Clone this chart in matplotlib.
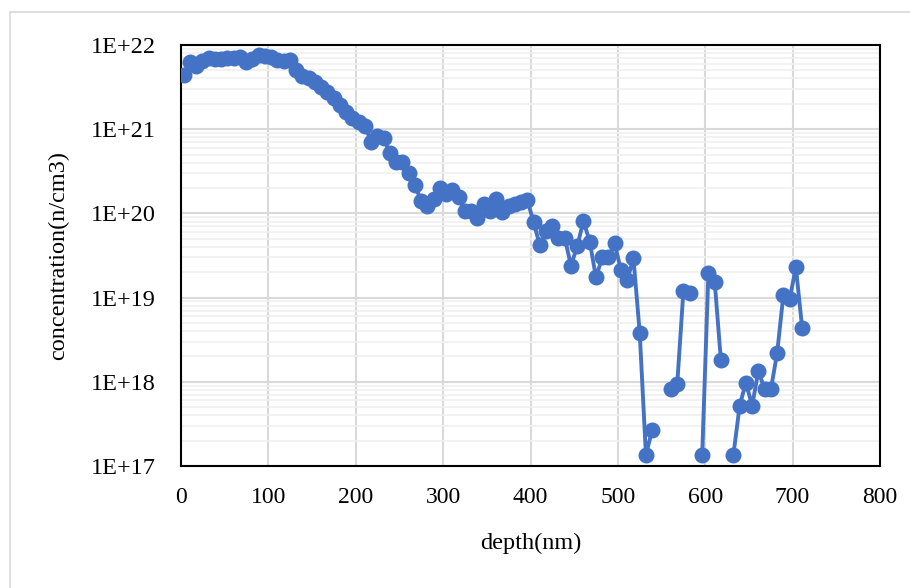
# depth profile of concentration, log scale
import numpy as np
import matplotlib.pyplot as plt
from matplotlib.patches import Rectangle
from matplotlib.ticker import LogLocator, NullFormatter

depth = [3.0, 10.2, 17.3, 24.5, 31.6, 38.8, 45.9, 53.1, 60.2, 67.4,
         74.5, 81.7, 88.8, 96.0, 103.1, 110.3, 117.4, 124.6, 131.7, 138.9,
         146.0, 153.2, 160.3, 167.5, 174.6, 181.8, 188.9, 196.1, 203.2, 210.4,
         217.5, 224.7, 231.8, 239.0, 246.1, 253.3, 260.4, 267.6, 274.7, 281.9,
         289.0, 296.2, 303.3, 310.5, 317.6, 324.8, 331.9, 339.1, 346.2, 353.4,
         360.5, 367.7, 374.8, 382.0, 389.1, 396.3, 403.4, 410.6, 417.7, 424.9,
         432.0, 439.2, 446.3, 453.5, 460.6, 467.8, 474.9, 482.1, 489.2, 496.4,
         503.5, 510.7, 517.8, 525.0, 532.1, 539.3, 546.4, 553.6, 560.7, 567.9,
         575.0, 582.2, 589.3, 596.5, 603.6, 610.8, 617.9, 625.1, 632.2, 639.4,
         646.5, 653.7, 660.8, 668.0, 675.1, 682.3, 689.4, 696.6, 703.7, 710.9]

nan = np.nan
conc = [4.4e21, 6.2e21, 5.6e21, 6.5e21, 7.1e21, 6.8e21, 6.8e21, 7.1e21, 7.1e21, 7.2e21,
        6.3e21, 6.8e21, 7.6e21, 7.5e21, 7.2e21, 6.6e21, 6.5e21, 6.6e21, 5.0e21, 4.3e21,
        4.0e21, 3.6e21, 3.2e21, 2.75e21, 2.35e21, 1.95e21, 1.6e21, 1.35e21, 1.23e21, 1.1e21,
        7.1e20, 8.3e20, 7.9e20, 5.2e20, 4.1e20, 4.1e20, 3.0e20, 2.2e20, 1.4e20, 1.23e20,
        1.48e20, 2.0e20, 1.7e20, 1.9e20, 1.55e20, 1.07e20, 1.07e20, 8.9e19, 1.3e20, 1.07e20,
        1.5e20, 1.05e20, 1.23e20, 1.3e20, 1.38e20, 1.45e20, 7.9e19, 4.2e19, 6.2e19, 7.1e19,
        5.1e19, 5.1e19, 2.4e19, 4.1e19, 8.1e19, 4.6e19, 1.74e19, 3.0e19, 3.0e19, 4.4e19,
        2.1e19, 1.6e19, 2.95e19, 3.8e18, 1.35e17, 2.7e17, nan, nan, 8.1e17, 9.3e17,
        1.2e19, 1.12e19, nan, 1.35e17, 1.95e19, 1.55e19, 1.8e18, nan, 1.35e17, 5.2e17,
        9.8e17, 5.2e17, 1.35e18, 8.1e17, 8.1e17, 2.2e18, 1.07e19, 9.5e18, 2.3e19, 4.4e18]

ytick_vals = [1e17, 1e18, 1e19, 1e20, 1e21, 1e22]
ytick_labels = ['1E+17', '1E+18', '1E+19', '1E+20', '1E+21', '1E+22']

plt.rcParams['font.family'] = ['Liberation Serif', 'DejaVu Serif']

fig = plt.figure(figsize=(9.1, 5.88), dpi=100)
ax = fig.add_axes([0.199, 0.2075, 0.768, 0.716])

# light outer chart frame
fig.patches.append(Rectangle((0.011, -0.02), 1.02, 1.0, transform=fig.transFigure,
                             fill=False, edgecolor='#D9D9D9', linewidth=1.2))

ax.plot(depth, conc, color='#4472C4', linewidth=2.8, marker='o', markersize=11.5,
        markeredgewidth=0, zorder=3)

ax.set_yscale('log')
ax.set_ylim(1e17, 1e22)
ax.set_xlim(0, 800)
ax.set_xticks(range(0, 801, 100))
ax.yaxis.set_minor_locator(LogLocator(base=10, subs=np.arange(2, 10), numticks=10))
ax.yaxis.set_minor_formatter(NullFormatter())
ax.set_yticks(ytick_vals)
ax.set_yticklabels(ytick_labels)

ax.grid(which='major', color='#D9D9D9', linewidth=1.5, zorder=0)
ax.grid(which='minor', axis='y', color='#F0F0F0', linewidth=1.2, zorder=0)
ax.set_axisbelow(True)

for s in ax.spines.values():
    s.set_color('black')
    s.set_linewidth(1.5)

ax.tick_params(which='both', length=0)
ax.tick_params(axis='y', pad=18, labelsize=17.5)
ax.tick_params(axis='x', pad=15, labelsize=17)

ax.set_xlabel('depth(nm)', fontsize=17.5, labelpad=18)
ax.set_ylabel('concentration(n/cm3)', fontsize=17.5, labelpad=16)

fig.savefig('out.png', dpi=100)
